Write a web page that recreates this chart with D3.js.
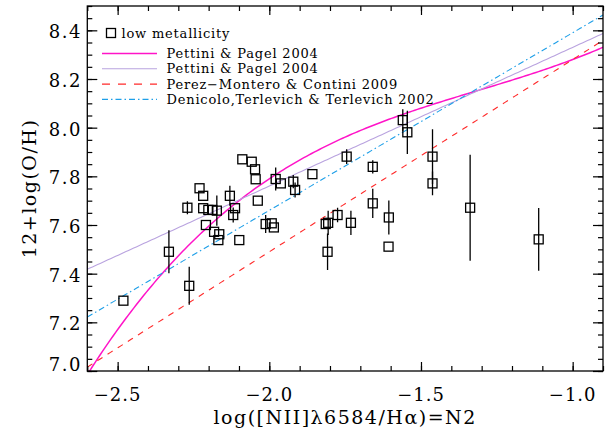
<!DOCTYPE html>
<html>
<head>
<meta charset="utf-8">
<script src="https://cdn.jsdelivr.net/npm/d3@7"></script>
<style>
  body { margin: 0; background: #fff; }
  text { font-family: "DejaVu Serif", serif; fill: #000; }
</style>
</head>
<body>
<div id="chart"></div>
<script>
// low metallicity sample: N2 index, 12+log(O/H) and its error
var n2 = [-2.481,-2.331,-2.264,-2.270,-2.230,-2.218,-2.218,-2.201,-2.188,-2.173,-2.209,-2.182,-2.165,-2.168,-2.130,-2.113,-2.119,-2.099,-2.089,-2.058,-2.047,-2.045,-2.038,-1.979,-1.962,-1.921,-1.915,-1.858,-1.745,-2.012,-1.992,-1.985,-1.814,-1.806,-1.808,-1.775,-1.731,-1.659,-1.659,-1.606,-1.607,-1.560,-1.545,-1.462,-1.462,-1.338,-1.112];
var oh = [7.289,7.490,7.350,7.671,7.751,7.720,7.669,7.662,7.662,7.659,7.600,7.572,7.562,7.538,7.720,7.669,7.641,7.538,7.870,7.860,7.829,7.788,7.700,7.789,7.771,7.778,7.744,7.809,7.881,7.604,7.607,7.590,7.604,7.609,7.490,7.641,7.609,7.839,7.689,7.631,7.511,8.031,7.981,7.881,7.771,7.671,7.541];
var ohErr = [0,0.088,0.078,0.027,0,0,0,0.02,0,0.062,0,0,0,0,0.041,0,0.031,0,0,0,0,0,0,0.047,0,0.027,0.031,0,0.03,0.037,0,0,0,0.05,0.075,0.03,0.05,0.027,0.06,0.07,0,0.045,0.089,0.113,0.049,0.218,0.129];

// calibrations: polynomial coefficients in N2 (c0 + c1*N2 + c2*N2^2 + c3*N2^3)
var calNames = ["Pettini & Pagel 2004", "Pettini & Pagel 2004", "Perez\u2212Montero & Contini 2009", "Denicolo,Terlevich & Terlevich 2002"];
var calCoefs = [[9.37, 2.03, 1.26, 0.32], [8.90, 0.57], [9.07, 0.79], [9.12, 0.73]];

var xTicks = [-2.5, -2.0, -1.5, -1.0];
var yTicks = [7.0, 7.2, 7.4, 7.6, 7.8, 8.0, 8.2, 8.4];

var w = 615, h = 434;
var pL = 87.3, pR = 603, pT = 6, pB = 371;

var x = d3.scaleLinear().domain([-2.6, -0.9]).range([pL, pR]);
var y = d3.scaleLinear().domain([7.0, 8.5]).range([pB, pT]);

var styles = [
  {color: "#ff14c8", width: 1.5, dash: null},
  {color: "#b9a3df", width: 1.1, dash: null},
  {color: "#ff2a2a", width: 1.1, dash: "6,6"},
  {color: "#1e9fe8", width: 1.1, dash: "6,3,1.5,3"}
];

var svg = d3.select("#chart").append("svg")
  .attr("width", w)
  .attr("height", h);

svg.append("clipPath").attr("id", "plotclip")
  .append("rect")
  .attr("x", pL).attr("y", pT)
  .attr("width", pR - pL).attr("height", pB - pT);

// calibration curves
var grid = d3.range(0, 201).map(function(i) { return -2.6 + i * 1.7 / 200; });
function poly(c, v) {
  var s = 0;
  for (var k = c.length - 1; k >= 0; k--) s = s * v + c[k];
  return s;
}
var line = d3.line()
  .x(function(d) { return x(d[0]); })
  .y(function(d) { return y(d[1]); });

var curves = svg.append("g").attr("clip-path", "url(#plotclip)");
calCoefs.forEach(function(c, i) {
  curves.append("path")
    .datum(grid.map(function(v) { return [v, poly(c, v)]; }))
    .attr("d", line)
    .attr("fill", "none")
    .attr("stroke", styles[i].color)
    .attr("stroke-width", styles[i].width)
    .attr("stroke-dasharray", styles[i].dash);
});

// data points
var pts = n2.map(function(v, i) { return {x: v, y: oh[i], e: ohErr[i]}; });
var dots = svg.append("g").attr("clip-path", "url(#plotclip)");
dots.selectAll(".err")
  .data(pts.filter(function(d) { return d.e > 0; }))
  .enter().append("line")
  .attr("x1", function(d) { return x(d.x); })
  .attr("x2", function(d) { return x(d.x); })
  .attr("y1", function(d) { return y(d.y - d.e); })
  .attr("y2", function(d) { return y(d.y + d.e); })
  .attr("stroke", "#000")
  .attr("stroke-width", 1.3);
dots.selectAll(".pt")
  .data(pts)
  .enter().append("rect")
  .attr("x", function(d) { return x(d.x) - 4.5; })
  .attr("y", function(d) { return y(d.y) - 4.5; })
  .attr("width", 9)
  .attr("height", 9)
  .attr("fill", "none")
  .attr("stroke", "#000")
  .attr("stroke-width", 1.3);

// axes with inward ticks on all four sides
var xMinor = d3.range(-2.6, -0.89, 0.1).map(function(v) { return +v.toFixed(2); });
var yMinor = d3.range(7.0, 8.51, 0.05).map(function(v) { return +v.toFixed(2); });

function addAxis(axis, tx, ty) {
  var g = svg.append("g").attr("transform", "translate(" + tx + "," + ty + ")").call(axis);
  g.select(".domain").remove();
  g.selectAll(".tick line").attr("stroke", "#000").attr("stroke-width", 1.2);
  g.selectAll(".tick text").remove();
  return g;
}
addAxis(d3.axisBottom(x).tickValues(xMinor).tickSize(-5), 0, pB);
addAxis(d3.axisBottom(x).tickValues(xTicks).tickSize(-9), 0, pB);
addAxis(d3.axisTop(x).tickValues(xMinor).tickSize(-5), 0, pT);
addAxis(d3.axisTop(x).tickValues(xTicks).tickSize(-9), 0, pT);
addAxis(d3.axisLeft(y).tickValues(yMinor).tickSize(-5), pL, 0);
addAxis(d3.axisLeft(y).tickValues(yTicks).tickSize(-10), pL, 0);
addAxis(d3.axisRight(y).tickValues(yMinor).tickSize(-5), pR, 0);
addAxis(d3.axisRight(y).tickValues(yTicks).tickSize(-10), pR, 0);

svg.append("rect")
  .attr("x", pL).attr("y", pT)
  .attr("width", pR - pL).attr("height", pB - pT)
  .attr("fill", "none")
  .attr("stroke", "#000")
  .attr("stroke-width", 1.3);

// tick labels
svg.selectAll(".xl")
  .data(xTicks)
  .enter().append("text")
  .attr("x", function(d) { return x(d); })
  .attr("y", 401)
  .attr("text-anchor", "middle")
  .style("font-size", "18px")
  .style("letter-spacing", "1px")
  .text(function(d) { return d3.format(".1f")(d).replace("-", "\u2212"); });

svg.selectAll(".yl")
  .data(yTicks)
  .enter().append("text")
  .attr("x", 82)
  .attr("y", function(d) { return Math.min(y(d), 363) + 8; })
  .attr("text-anchor", "end")
  .style("font-size", "18px")
  .style("letter-spacing", "1.5px")
  .text(function(d) { return d.toFixed(1); });

// axis titles
svg.append("text")
  .attr("x", (pL + pR) / 2)
  .attr("y", 424)
  .attr("text-anchor", "middle")
  .style("font-size", "19px")
  .style("letter-spacing", "1.5px")
  .text("log([NII]\u03bb6584/H\u03b1)=N2");

svg.append("text")
  .attr("transform", "translate(36," + ((pT + pB) / 2) + ") rotate(-90)")
  .attr("text-anchor", "middle")
  .style("font-size", "19px")
  .style("letter-spacing", "1.5px")
  .text("12+log(O/H)");

// legend
var legend = svg.append("g");
legend.append("rect")
  .attr("x", 106.5).attr("y", 28.5)
  .attr("width", 9).attr("height", 9)
  .attr("fill", "none").attr("stroke", "#000").attr("stroke-width", 1.3);
legend.append("text")
  .attr("x", 121.5).attr("y", 37.5)
  .style("font-size", "13px")
  .style("letter-spacing", "0.8px")
  .text("low metallicity");

calNames.forEach(function(name, i) {
  var ly = 53.5 + i * 15.3;
  legend.append("line")
    .attr("x1", 102).attr("x2", 157)
    .attr("y1", ly).attr("y2", ly)
    .attr("stroke", styles[i].color)
    .attr("stroke-width", styles[i].width)
    .attr("stroke-dasharray", i == 2 ? "8,8" : styles[i].dash);
  legend.append("text")
    .attr("x", 166.5).attr("y", ly + 4.5)
    .style("font-size", "13px")
    .style("letter-spacing", "0.8px")
    .text(name);
});
</script>
</body>
</html>
